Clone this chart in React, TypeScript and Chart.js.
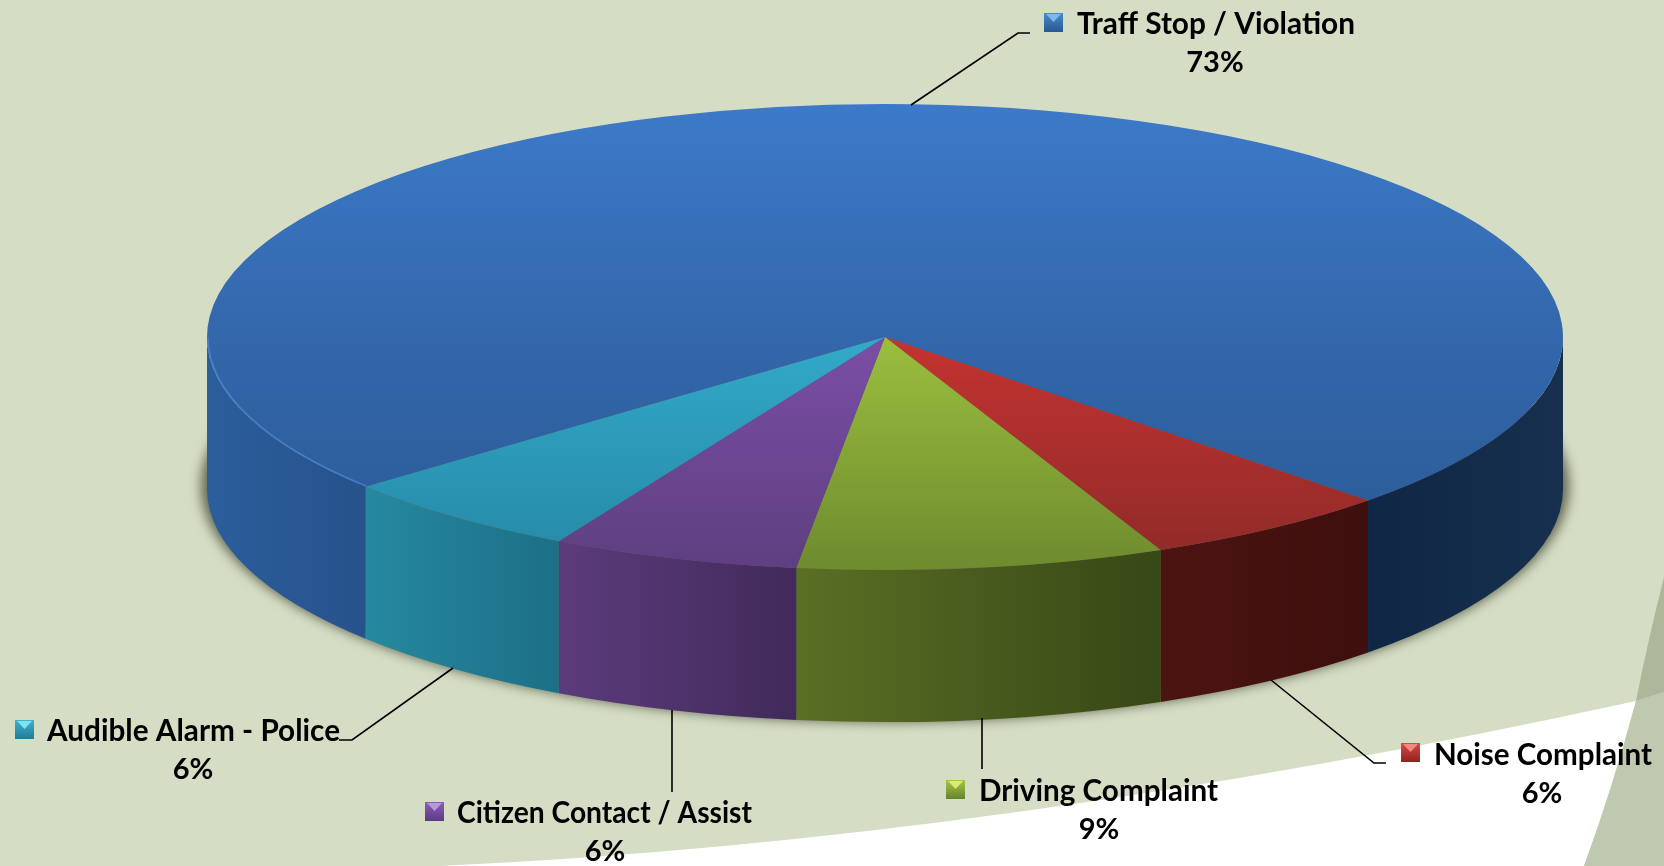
import React, { useEffect, useRef } from "react";
import { Chart, registerables } from "chart.js";

Chart.register(...registerables);

const W = 1664;
const H = 866;

// clockwise from the rear-left boundary of the large slice
const categories = [
  "Traff Stop / Violation",
  "Noise Complaint",
  "Driving Complaint",
  "Citizen Contact / Assist",
  "Audible Alarm - Police",
];
const values = [73.49, 5.96, 8.75, 5.9, 5.9];
const topStops = [
  ["#3c7ac9", "#3367ab", "#2a5a95"],
  ["#c83431", "#c43331", "#8d2a28"],
  ["#9dc440", "#9abf3e", "#6e8b2e"],
  ["#7d50a9", "#7a4ea6", "#5e3f80"],
  ["#35aecd", "#33a9c9", "#2588a6"],
];
const sideStops = [
  ["#2b5e9b", "#27528c"],
  ["#4c1411", "#3d0f0d"],
  ["#5a6f24", "#384716"],
  ["#5c3b7c", "#412a5a"],
  ["#26899f", "#1c6f87"],
];
const rightSideStops = ["#0f2744", "#17304f"];
const rimColors = ["#4a86d4", "#d24a46", "#a9cf52", "#9a74c4", "#56c4de"];
const keyColors = [
  ["#4a8ad0", "#28588f", "#7db8ee"],
  ["#d84a48", "#90221f", "#f08a82"],
  ["#a5c648", "#66842a", "#d8ee70"],
  ["#8a60b8", "#5b3a85", "#b898e0"],
  ["#3fb0cf", "#1f7c98", "#80e0f0"],
];
// text anchor per category: key x/y, label x/y/width, percent x/y
const labelLayout = [
  { kx: 1044, ky: 13, tx: 1077, ty: 24, tw: 278, px: 1215, py: 63 },
  { kx: 1401, ky: 743, tx: 1434, ty: 755, tw: 218, px: 1542, py: 794 },
  { kx: 946, ky: 780, tx: 979, ty: 791, tw: 239, px: 1099, py: 830 },
  { kx: 425, ky: 802, tx: 457, ty: 813, tw: 295, px: 605, py: 852 },
  { kx: 15, ky: 720, tx: 47, ty: 731, tw: 293, px: 193, py: 770 },
];
const leaders = [
  [[911, 105], [1018, 33], [1030, 33]],
  [[1271, 680], [1374, 763], [1386, 763]],
  [[982, 718], [982, 769]],
  [[672, 710], [672, 792]],
  [[453, 668], [352, 740], [339, 740]],
];

const CX = 885;
const CY = 337;
const RX = 678;
const RY = 233;
const DEPTH = 152;
const FONT = "bold 30px Lato, sans-serif";
const PCT_FONT = "bold 29px Lato, sans-serif";

const scenePlugin = {
  id: "scene",
  beforeDraw(chart: any) {
    const c = chart.ctx;
    c.save();
    c.fillStyle = "#d5ddc5";
    c.fillRect(0, 0, W, H);
    // white swoosh
    c.fillStyle = "#ffffff";
    c.beginPath();
    c.moveTo(440, 866);
    c.quadraticCurveTo(1000, 840, 1636, 701);
    c.quadraticCurveTo(1612, 790, 1584, 866);
    c.closePath();
    c.fill();
    // olive bands
    c.fillStyle = "#bfc9af";
    c.beginPath();
    c.moveTo(1636, 701);
    c.lineTo(1664, 692);
    c.lineTo(1664, 866);
    c.lineTo(1584, 866);
    c.quadraticCurveTo(1612, 790, 1636, 701);
    c.closePath();
    c.fill();
    c.fillStyle = "#adb799";
    c.beginPath();
    c.moveTo(1664, 577);
    c.quadraticCurveTo(1648, 640, 1636, 701);
    c.lineTo(1664, 692);
    c.closePath();
    c.fill();
    c.restore();
  },
  beforeDatasetsDraw(chart: any) {
    const c = chart.ctx;
    const arcs = chart.getDatasetMeta(0).data;
    // ground shadow
    c.save();
    c.filter = "blur(6px)";
    c.fillStyle = "rgba(70,72,50,0.8)";
    c.beginPath();
    c.ellipse(CX, CY + DEPTH - 3, RX + 6, RY + 3, 0, 0, Math.PI * 2);
    c.fill();
    c.restore();
    // extruded wall of each slice, from the arc element's own angles
    arcs.forEach((arc: any, i: number) => {
      for (let k = 0; k < 3; k++) {
        const a0 = Math.max(arc.startAngle, k * 2 * Math.PI);
        const a1 = Math.min(arc.endAngle, k * 2 * Math.PI + Math.PI);
        if (a1 <= a0) continue;
        const x0 = CX + RX * Math.cos(a0);
        const x1 = CX + RX * Math.cos(a1);
        const isRight = i === 0 && k > 0;
        const st = isRight ? rightSideStops : sideStops[i];
        const g = c.createLinearGradient(Math.min(x0, x1), 0, Math.max(x0, x1), 0);
        g.addColorStop(0, st[0]);
        g.addColorStop(1, st[1]);
        c.fillStyle = g;
        c.beginPath();
        c.ellipse(CX, CY, RX, RY, 0, a0, a1);
        c.ellipse(CX, CY + DEPTH, RX, RY, 0, a1, a0, true);
        c.closePath();
        c.fill();
      }
    });
    // flatten the pie to the tilted disc
    const el = arcs[0];
    c.save();
    c.translate(CX, CY);
    c.scale(RX / el.outerRadius, RY / el.outerRadius);
    c.translate(-el.x, -el.y);
  },
  afterDatasetsDraw(chart: any) {
    const c = chart.ctx;
    c.restore();
    const arcs = chart.getDatasetMeta(0).data;
    // thin lit rim along the front edge of the disc
    arcs.forEach((arc: any, i: number) => {
      const a0 = Math.max(arc.startAngle, 0);
      const a1 = Math.min(arc.endAngle, Math.PI);
      c.save();
      c.lineWidth = 1.5;
      c.globalAlpha = 0.8;
      c.strokeStyle = rimColors[i];
      if (a1 > a0) {
        c.beginPath();
        c.ellipse(CX, CY, RX - 1, RY - 1, 0, a0, a1);
        c.stroke();
      }
      c.restore();
    });
    // leader lines
    c.save();
    c.strokeStyle = "#000";
    c.lineWidth = 1.6;
    leaders.forEach((pts) => {
      c.beginPath();
      pts.forEach((p, j) => (j ? c.lineTo(p[0], p[1]) : c.moveTo(p[0], p[1])));
      c.stroke();
    });
    // keys and labels
    categories.forEach((name, i) => {
      const l = labelLayout[i];
      const s = 19;
      const g = c.createLinearGradient(0, l.ky, 0, l.ky + s);
      g.addColorStop(0, keyColors[i][0]);
      g.addColorStop(1, keyColors[i][1]);
      c.fillStyle = g;
      c.fillRect(l.kx, l.ky, s, s);
      c.fillStyle = keyColors[i][2];
      c.beginPath();
      c.moveTo(l.kx + 2, l.ky + 1);
      c.lineTo(l.kx + s - 2, l.ky + 1);
      c.lineTo(l.kx + s / 2, l.ky + 9);
      c.closePath();
      c.fill();
      c.fillStyle = "#000";
      c.font = FONT;
      c.textBaseline = "middle";
      c.textAlign = "left";
      c.fillText(name, l.tx, l.ty, l.tw);
      c.font = PCT_FONT;
      c.textAlign = "center";
      c.fillText(Math.round(values[i]) + "%", l.px, l.py);
    });
    c.restore();
  },
};

export default function App() {
  const ref = useRef<HTMLCanvasElement | null>(null);
  useEffect(() => {
    document.body.style.margin = "0";
    const canvas = ref.current!;
    const ctx = canvas.getContext("2d")!;
    const midY = H / 2;
    const fills = topStops.map((st) => {
      const g = ctx.createLinearGradient(0, midY - RX, 0, midY + RX);
      g.addColorStop(0, st[0]);
      g.addColorStop(0.5, st[1]);
      g.addColorStop(1, st[2]);
      return g;
    });
    const chart = new Chart(ctx, {
      type: "pie",
      data: {
        labels: categories,
        datasets: [
          {
            data: values,
            backgroundColor: fills,
            borderWidth: 0,
            clip: false,
          } as any,
        ],
      },
      options: {
        responsive: false,
        animation: false,
        rotation: 230,
        radius: RX,
        events: [],
        layout: { padding: 0 },
        plugins: { legend: { display: false }, tooltip: { enabled: false } },
      } as any,
      plugins: [scenePlugin],
    });
    return () => chart.destroy();
  }, []);
  return (
    <div style={{ position: "fixed", left: 0, top: 0, width: W, height: H, overflow: "hidden" }}>
      <canvas ref={ref} width={W} height={H} style={{ display: "block" }} />
    </div>
  );
}
